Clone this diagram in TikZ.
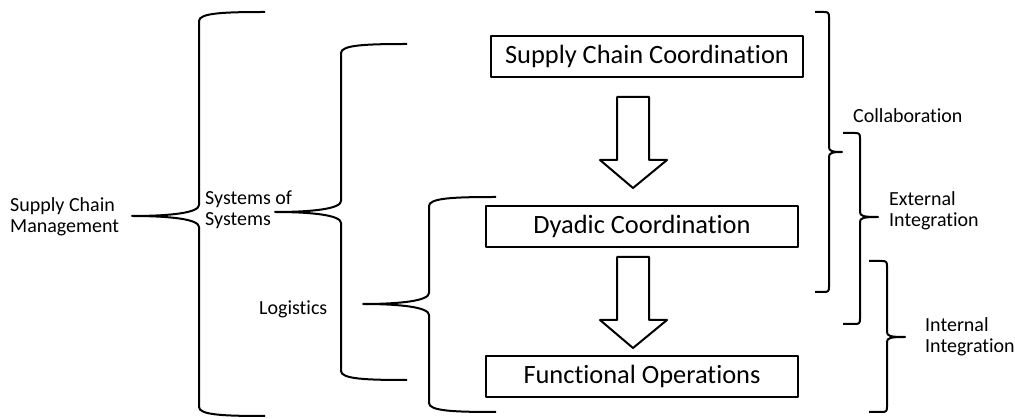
\documentclass[tikz,border=0pt]{standalone}
\usepackage{fontspec}
\setmainfont{Carlito}[Ligatures=NoCommon]

% left-opening curly brace: tip x, tip y, spine x, arm end x, top y, bottom y
\newcommand\leftbrk[6]{%
  \draw[brk] (#4,#5) .. controls (#3+25,#5) and (#3,#5+1) .. (#3,#5+9)
    -- (#3,#2-11) .. controls (#3,#2-3) and (#3-30,#2) .. (#1,#2)
    .. controls (#3-30,#2) and (#3,#2+3) .. (#3,#2+11)
    -- (#3,#6-9) .. controls (#3,#6-1) and (#3+25,#6) .. (#4,#6);}
% right-opening square-ish brace: tip x, tip y, spine x, arm end x, top y, bottom y
\newcommand\rightbrk[6]{%
  \draw[brk] (#4,#5) -- (#3-5,#5) .. controls (#3-1,#5) and (#3,#5+1) .. (#3,#5+5)
    -- (#3,#2-5) .. controls (#3,#2-1) and (#3+3,#2) .. (#1,#2)
    .. controls (#3+3,#2) and (#3,#2+1) .. (#3,#2+5)
    -- (#3,#6-5) .. controls (#3,#6-1) and (#3-1,#6) .. (#3-5,#6) -- (#4,#6);}

\begin{document}
\begin{tikzpicture}[x=1pt,y=-1pt,line join=round,
  box/.style={draw,line width=2.2pt,minimum width=312pt,minimum height=41pt,
    inner sep=0pt,font=\fontsize{26.4}{30}\selectfont},
  lbl/.style={font=\fontsize{20}{21}\selectfont,align=left,inner sep=0pt,anchor=base west},
  brk/.style={line width=2pt},
  blockarrow/.style={draw,line width=2pt,fill=white}]
\useasboundingbox (0,0) rectangle (1015,419);

% the three levels
\node[box] (sc) at (647,56.5) {Supply Chain Coordination};
\node[box] (dy) at (642,226.5) {Dyadic Coordination};
\node[box] (fo) at (642,376.5) {Functional Operations};

% block arrows between levels
\draw[blockarrow] (617,97) -- (649,97) -- (649,160) -- (667,160) -- (633,188)
  -- (600,160) -- (617,160) -- cycle;
\draw[blockarrow] (617,257) -- (649,257) -- (649,320) -- (667,320) -- (633,348)
  -- (600,320) -- (617,320) -- cycle;

% labels (base anchor sits on the last line)
\node[lbl] (scm) at (10,233) {Supply Chain\\Management};
\node[lbl] (sos) at (205,225.5) {Systems of\\Systems};
\node[lbl] (log) at (259,315) {Logistics};
\node[lbl] (col) at (853,123) {Collaboration};
\node[lbl] (ext) at (889,227) {External\\Integration};
\node[lbl] (int) at (925,353) {Internal\\Integration};

% scope braces
\leftbrk{132}{216}{199}{265}{12}{416}
\leftbrk{275}{212}{341}{407}{44}{380}
\leftbrk{363}{304}{429}{496}{197}{412}
\rightbrk{842}{152}{829}{815}{12}{292}
\rightbrk{878}{217}{860}{843}{133}{324}
\rightbrk{905}{337}{887}{869}{261}{412}
\end{tikzpicture}
\end{document}
